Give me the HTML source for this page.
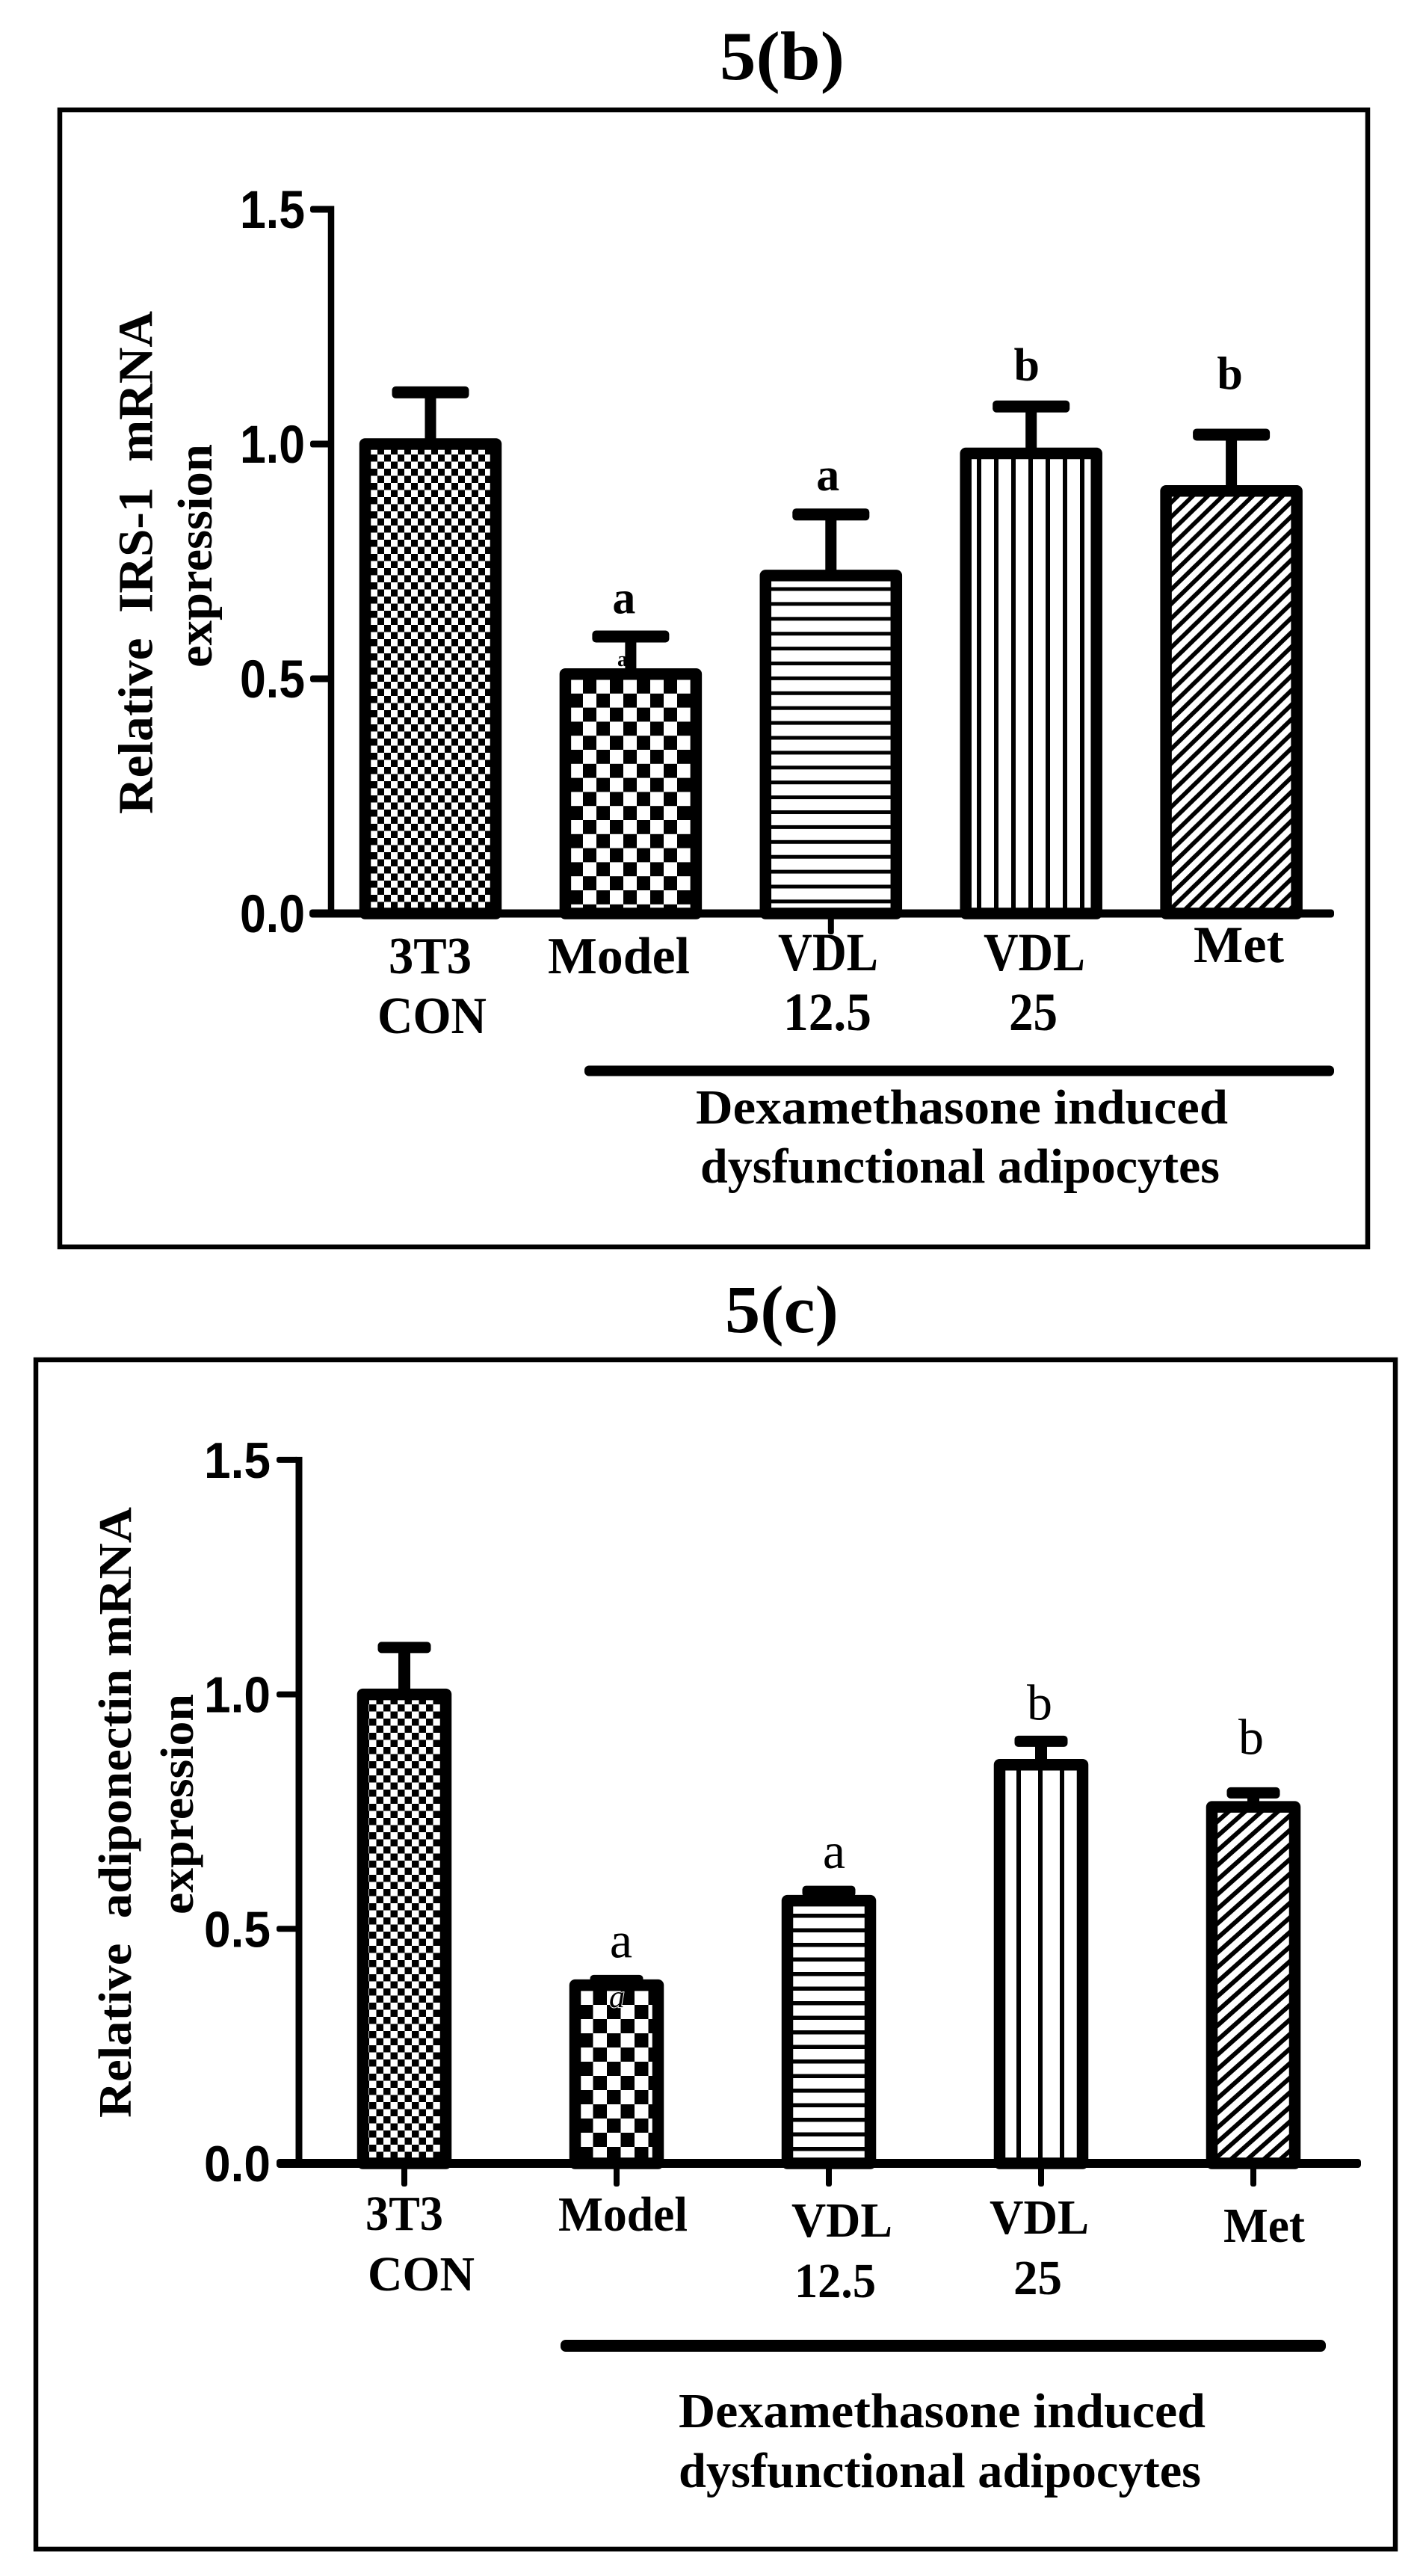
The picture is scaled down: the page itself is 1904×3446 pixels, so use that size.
<!DOCTYPE html>
<html lang="en">
<head>
<meta charset="utf-8">
<title>Figure 5(b) and 5(c): relative mRNA expression</title>
<style>
html,body{margin:0;padding:0;background:#fff}
svg{display:block}
text{fill:#000}
.serif{font-family:"Liberation Serif",serif}
.bold{font-weight:700}
.tick{font-family:"Liberation Sans",sans-serif;font-weight:700}
</style>
</head>
<body>
<svg id="figure" xmlns="http://www.w3.org/2000/svg" width="1904" height="3446" viewBox="0 0 1904 3446">
<defs>
<pattern id="b-check-fine" patternUnits="userSpaceOnUse" width="18" height="19" patternTransform="translate(496 0)"><rect width="18" height="19" fill="#fff"/><rect width="9" height="9.5" fill="#000"/><rect x="9" y="9.5" width="9" height="9.5" fill="#000"/></pattern>
<pattern id="b-check-coarse" patternUnits="userSpaceOnUse" width="36" height="37.6" patternTransform="translate(762 909)"><rect width="36" height="37.6" fill="#fff"/><rect x="18" width="18" height="18.8" fill="#000"/><rect y="18.8" width="18" height="18.8" fill="#000"/></pattern>
<pattern id="b-hstripe" patternUnits="userSpaceOnUse" width="20" height="19.9" patternTransform="translate(0 785.5)"><rect width="20" height="19.9" fill="#fff"/><rect width="20" height="5" fill="#000"/></pattern>
<pattern id="b-vstripe" patternUnits="userSpaceOnUse" width="23" height="20" patternTransform="translate(1307 0)"><rect width="23" height="20" fill="#fff"/><rect width="6" height="20" fill="#000"/></pattern>
<pattern id="b-diag" patternUnits="userSpaceOnUse" width="20" height="19.4"><rect width="20" height="19.4" fill="#fff"/><path d="M-5 24.25L25 -4.85M-25 24.25L5 -4.85M15 24.25L45 -4.85" stroke="#000" stroke-width="5.8"/></pattern>
<pattern id="c-check-fine" patternUnits="userSpaceOnUse" width="19" height="19" patternTransform="translate(494 0)"><rect width="19" height="19" fill="#fff"/><rect width="9.5" height="9.5" fill="#000"/><rect x="9.5" y="9.5" width="9.5" height="9.5" fill="#000"/></pattern>
<pattern id="c-check-coarse" patternUnits="userSpaceOnUse" width="37" height="38" patternTransform="translate(775 2663)"><rect width="37" height="38" fill="#fff"/><rect x="18.5" width="18.5" height="19" fill="#000"/><rect y="19" width="18.5" height="19" fill="#000"/></pattern>
<pattern id="c-hstripe" patternUnits="userSpaceOnUse" width="20" height="19.5" patternTransform="translate(0 2560)"><rect width="20" height="19.5" fill="#fff"/><rect width="20" height="5.5" fill="#000"/></pattern>
<pattern id="c-vstripe" patternUnits="userSpaceOnUse" width="29" height="20" patternTransform="translate(1360 0)"><rect width="29" height="20" fill="#fff"/><rect width="6" height="20" fill="#000"/></pattern>
<pattern id="c-diag" patternUnits="userSpaceOnUse" width="22" height="19.5"><rect width="22" height="19.5" fill="#fff"/><path d="M-5.5 24.4L27.5 -4.9M-27.5 24.4L5.5 -4.9M16.5 24.4L49.5 -4.9" stroke="#000" stroke-width="6"/></pattern>
</defs>

<rect width="1904" height="3446" fill="#fff"/>

<!-- Panel 5(b) -->
<text class="serif bold" x="963" y="106" font-size="92" textLength="167" lengthAdjust="spacingAndGlyphs">5(b)</text>
<rect x="80" y="147" width="1750" height="1521" fill="none" stroke="#000" stroke-width="6.5"/>
<g id="panel-b"></g>
<text class="serif bold" transform="translate(203.5 1089) rotate(-90)" font-size="66" textLength="673" lengthAdjust="spacingAndGlyphs" xml:space="preserve">Relative  IRS-1  mRNA</text>
<text class="serif bold" transform="translate(283 893) rotate(-90)" font-size="66" textLength="299" lengthAdjust="spacingAndGlyphs">expression</text>
<text class="serif bold" x="520" y="1302" font-size="70" textLength="111" lengthAdjust="spacingAndGlyphs">3T3</text>
<text class="serif bold" x="505" y="1382" font-size="70" textLength="146" lengthAdjust="spacingAndGlyphs">CON</text>
<text class="serif bold" x="733" y="1302" font-size="70" textLength="190" lengthAdjust="spacingAndGlyphs">Model</text>
<text class="serif bold" x="1041" y="1298" font-size="72" textLength="134" lengthAdjust="spacingAndGlyphs">VDL</text>
<text class="serif bold" x="1048" y="1378" font-size="72" textLength="118" lengthAdjust="spacingAndGlyphs">12.5</text>
<text class="serif bold" x="1316" y="1298" font-size="72" textLength="136" lengthAdjust="spacingAndGlyphs">VDL</text>
<text class="serif bold" x="1350" y="1378" font-size="72" textLength="65" lengthAdjust="spacingAndGlyphs">25</text>
<text class="serif bold" x="1597" y="1287" font-size="70" textLength="121" lengthAdjust="spacingAndGlyphs">Met</text>
<rect x="782" y="1425.5" width="1003" height="14" rx="6" fill="#000"/>
<text class="serif bold" x="931" y="1503" font-size="66" textLength="712" lengthAdjust="spacingAndGlyphs">Dexamethasone induced</text>
<text class="serif bold" x="937" y="1582" font-size="66" textLength="695" lengthAdjust="spacingAndGlyphs">dysfunctional adipocytes</text>

<!-- Panel 5(c) -->
<text class="serif bold" x="970" y="1782" font-size="90" textLength="152" lengthAdjust="spacingAndGlyphs">5(c)</text>
<rect x="48" y="1819" width="1819" height="1591" fill="none" stroke="#000" stroke-width="6.5"/>
<g id="panel-c"></g>
<text class="serif bold" transform="translate(175 2833) rotate(-90)" font-size="62" textLength="817" lengthAdjust="spacingAndGlyphs" xml:space="preserve">Relative  adiponectin mRNA</text>
<text class="serif bold" transform="translate(258 2561) rotate(-90)" font-size="62" textLength="295" lengthAdjust="spacingAndGlyphs">expression</text>
<text class="serif bold" x="489" y="2983" font-size="66" textLength="104" lengthAdjust="spacingAndGlyphs">3T3</text>
<text class="serif bold" x="492" y="3064" font-size="66" textLength="143" lengthAdjust="spacingAndGlyphs">CON</text>
<text class="serif bold" x="747" y="2984" font-size="66" textLength="173" lengthAdjust="spacingAndGlyphs">Model</text>
<text class="serif bold" x="1059" y="2992" font-size="66" textLength="135" lengthAdjust="spacingAndGlyphs">VDL</text>
<text class="serif bold" x="1063" y="3073" font-size="66" textLength="109" lengthAdjust="spacingAndGlyphs">12.5</text>
<text class="serif bold" x="1324" y="2988" font-size="66" textLength="133" lengthAdjust="spacingAndGlyphs">VDL</text>
<text class="serif bold" x="1356" y="3069" font-size="66" textLength="65" lengthAdjust="spacingAndGlyphs">25</text>
<text class="serif bold" x="1637" y="2999" font-size="66" textLength="109" lengthAdjust="spacingAndGlyphs">Met</text>
<rect x="750" y="3130" width="1024" height="16" rx="7" fill="#000"/>
<text class="serif bold" x="908" y="3247" font-size="66" textLength="705" lengthAdjust="spacingAndGlyphs">Dexamethasone induced</text>
<text class="serif bold" x="908" y="3327" font-size="66" textLength="699" lengthAdjust="spacingAndGlyphs">dysfunctional adipocytes</text>
</svg>

<script>
// Panel 5(b) data
const categoriesB = ['3T3 CON', 'Model', 'VDL 12.5', 'VDL 25', 'Met'];
const valuesB = [1.0, 0.51, 0.72, 0.98, 0.90];
const errorsB = [0.11, 0.08, 0.13, 0.10, 0.12];
const lettersB = ['', 'a', 'a', 'b', 'b'];

// Panel 5(c) data
const categoriesC = ['3T3 CON', 'Model', 'VDL 12.5', 'VDL 25', 'Met'];
const valuesC = [1.0, 0.38, 0.56, 0.85, 0.76];
const errorsC = [0.10, 0.01, 0.02, 0.05, 0.03];
const lettersC = ['', 'a', 'a', 'b', 'b'];

// Shared y-axis tick labels
const tickLabels = ['0.0', '0.5', '1.0', '1.5'];

const SVG_NS = 'http://www.w3.org/2000/svg';

function mk(parent, tag, attrs) {
  const el = document.createElementNS(SVG_NS, tag);
  for (const k in attrs) el.setAttribute(k, attrs[k]);
  parent.appendChild(el);
  return el;
}

function drawChart(opts) {
  const g = document.getElementById(opts.id);
  const yScale = v => opts.y0 - v * opts.yPerUnit;
  const xScale = i => opts.x0 + i * opts.xStep;
  const prefix = opts.prefix;

  opts.categories.forEach((cat, i) => {
    const cx = xScale(i);
    const slug = cat.toLowerCase().replace(/[^a-z0-9]+/g, '-');
    const top = yScale(opts.values[i]);
    const capY = yScale(opts.values[i] + opts.errors[i]);

    const stem = mk(g, 'rect', {x: cx - opts.stemW / 2, y: capY, width: opts.stemW, height: Math.max(0, top - capY), fill: '#000'});
    
    

    const cap = mk(g, 'rect', {x: cx - opts.capW / 2, y: capY - opts.capH / 2, width: opts.capW, height: opts.capH, rx: 5, fill: '#000'});
    
    

    const bar = mk(g, 'rect', {x: cx - opts.barW / 2, y: top, width: opts.barW, height: opts.y0 - top, fill: 'url(#' + opts.fills[i] + ')', stroke: '#000', 'stroke-width': opts.barStroke, 'stroke-linejoin': 'round'});
    
    

    if (opts.letters[i]) {
      const letter = mk(g, 'text', {x: cx + opts.letterDx[i], y: capY - opts.letterGap[i], 'text-anchor': 'middle', 'font-size': opts.letterSize, 'font-family': '"Liberation Serif", serif', 'font-weight': opts.letterWeight});
      letter.textContent = opts.letters[i];
      
      
    }

    if (opts.tickShown[i]) {
      const xt = mk(g, 'rect', {x: cx - opts.xTickW / 2, y: opts.y0, width: opts.xTickW, height: opts.xTickLen, rx: 3, fill: '#000'});
      
      
    }
  });

  const yAxis = mk(g, 'rect', {x: opts.axisX - opts.axisW / 2, y: yScale(1.5) - opts.tickH / 2, width: opts.axisW, height: opts.y0 - yScale(1.5) + opts.tickH / 2, fill: '#000'});
  
  

  const xAxis = mk(g, 'rect', {x: opts.xAxisStart, y: opts.y0 - opts.xAxisH / 2, width: opts.xAxisEnd - opts.xAxisStart, height: opts.xAxisH, rx: 4, fill: '#000'});
  
  

  tickLabels.forEach((label) => {
    const v = parseFloat(label);
    const ty = yScale(v);
    if (v > 0) {
      const t = mk(g, 'rect', {x: opts.tickStart, y: ty - opts.tickH / 2, width: opts.axisX - opts.tickStart, height: opts.tickH, rx: 3, fill: '#000'});
      
      
    }
    const txt = mk(g, 'text', {x: opts.tickLabelX, y: ty + opts.tickLabelDy, class: 'tick', 'font-size': opts.tickFont, textLength: opts.tickLabelLen, lengthAdjust: 'spacingAndGlyphs'});
    txt.textContent = label;
    
    
  });

  if (opts.strayLetter) {
    const stray = mk(g, 'text', opts.strayLetter);
    stray.textContent = 'a';
    
    
  }
}

drawChart({
  id: 'panel-b', prefix: 'panel-b',
  categories: categoriesB, values: valuesB, errors: errorsB, letters: lettersB,
  fills: ['b-check-fine', 'b-check-coarse', 'b-hstripe', 'b-vstripe', 'b-diag'],
  y0: 1222, yPerUnit: 628, x0: 576, xStep: 267.9,
  barW: 175, barStroke: 15.5, stemW: 15, capW: 103, capH: 16,
  letterDx: [0, -9, -4, -6, -2], letterGap: [0, 31, 32, 35, 61], letterSize: 62, letterWeight: 700,
  tickShown: [false, false, true, false, false], xTickW: 8, xTickLen: 28,
  axisX: 443, axisW: 8.5, xAxisStart: 414, xAxisEnd: 1785, xAxisH: 11,
  tickStart: 415, tickH: 9, tickLabelX: 321, tickLabelDy: 25, tickFont: 71, tickLabelLen: 87,
  strayLetter: {x: 826, y: 891, 'font-size': 28, 'font-weight': 700, 'font-family': '"Liberation Serif", serif'}
});

drawChart({
  id: 'panel-c', prefix: 'panel-c',
  categories: categoriesC, values: valuesC, errors: errorsC, letters: lettersC,
  fills: ['c-check-fine', 'c-check-coarse', 'c-hstripe', 'c-vstripe', 'c-diag'],
  y0: 2894, yPerUnit: 627.4, x0: 541, xStep: 284,
  barW: 111, barStroke: 15.5, stemW: 16, capW: 71, capH: 15,
  letterDx: [0, 6, 7, -2, -3], letterGap: [0, 31, 31, 29, 52], letterSize: 68, letterWeight: 400,
  tickShown: [true, true, true, true, true], xTickW: 8, xTickLen: 31,
  axisX: 400, axisW: 9, xAxisStart: 370, xAxisEnd: 1821, xAxisH: 12,
  tickStart: 370, tickH: 8, tickLabelX: 273, tickLabelDy: 24, tickFont: 68, tickLabelLen: 89,
  strayLetter: {x: 815, y: 2685, 'font-size': 42, 'font-style': 'italic', 'font-family': '"Liberation Serif", serif', stroke: '#fff', 'stroke-width': 2, 'paint-order': 'stroke'}
});
</script>
</body>
</html>
